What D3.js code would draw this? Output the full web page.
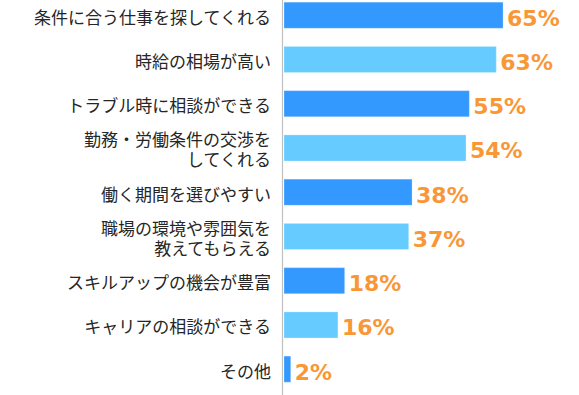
<!DOCTYPE html>
<html><head><meta charset="utf-8">
<script src="https://cdn.jsdelivr.net/npm/d3@7"></script>
<style>body{margin:0;background:#fff;}svg{display:block;}</style>
</head><body>
<svg id="chart" width="579" height="395"></svg>
<script>
const categories = [
  ["条件に合う仕事を探してくれる"],
  ["時給の相場が高い"],
  ["トラブル時に相談ができる"],
  ["勤務・労働条件の交渉を", "してくれる"],
  ["働く期間を選びやすい"],
  ["職場の環境や雰囲気を", "教えてもらえる"],
  ["スキルアップの機会が豊富"],
  ["キャリアの相談ができる"],
  ["その他"]
];
const values = [65, 63, 55, 54, 38, 37, 18, 16, 2];
const barColors = ["#3399ff", "#66ccff"];

const svg = d3.select("#chart");
const keys = categories.map((c, i) => i);
const x = d3.scaleLinear().domain([0, 100]).range([284, 621]);
const y = d3.scaleBand().domain(keys).range([-6.9, 391.3]).paddingInner(0.41).paddingOuter(0.205);

svg.selectAll("rect.bar").data(values).join("rect")
  .attr("class", "bar")
  .attr("x", x(0))
  .attr("y", (d, i) => y(i))
  .attr("width", d => x(d) - x(0))
  .attr("height", y.bandwidth())
  .attr("fill", (d, i) => barColors[i % 2])
  .attr("stroke", "rgba(255,255,255,0.25)")
  .attr("stroke-width", 1);

// axis line
svg.append("line")
  .attr("x1", 282.5).attr("x2", 282.5)
  .attr("y1", 0).attr("y2", 395)
  .attr("stroke", "#c0c0c0").attr("stroke-width", 1.2);

// category labels
const lh = 20;
svg.selectAll("text.cat").data(categories).join("text")
  .attr("class", "cat")
  .attr("text-anchor", "end")
  .attr("font-family", "'Noto Sans CJK JP', sans-serif")
  .attr("font-size", 17)
  .attr("fill", "#262626")
  .each(function(lines, i) {
    const cy = y(i) + y.bandwidth() / 2 + 1;
    const t = d3.select(this);
    lines.forEach((ln, k) => {
      t.append("tspan")
        .attr("x", 271)
        .attr("y", cy + (k - (lines.length - 1) / 2) * lh)
        .attr("dominant-baseline", "central")
        .text(ln);
    });
  });

// value labels
svg.selectAll("text.val").data(values).join("text")
  .attr("class", "val")
  .attr("x", d => x(d) + 4)
  .attr("y", (d, i) => y(i) + y.bandwidth() / 2 + 10.5)
  .attr("font-family", "'DejaVu Sans', Verdana, sans-serif")
  .attr("font-weight", "bold")
  .attr("font-size", 22)
  .attr("fill", "#f99737")
  .text(d => d + "%");
</script>
</body></html>
